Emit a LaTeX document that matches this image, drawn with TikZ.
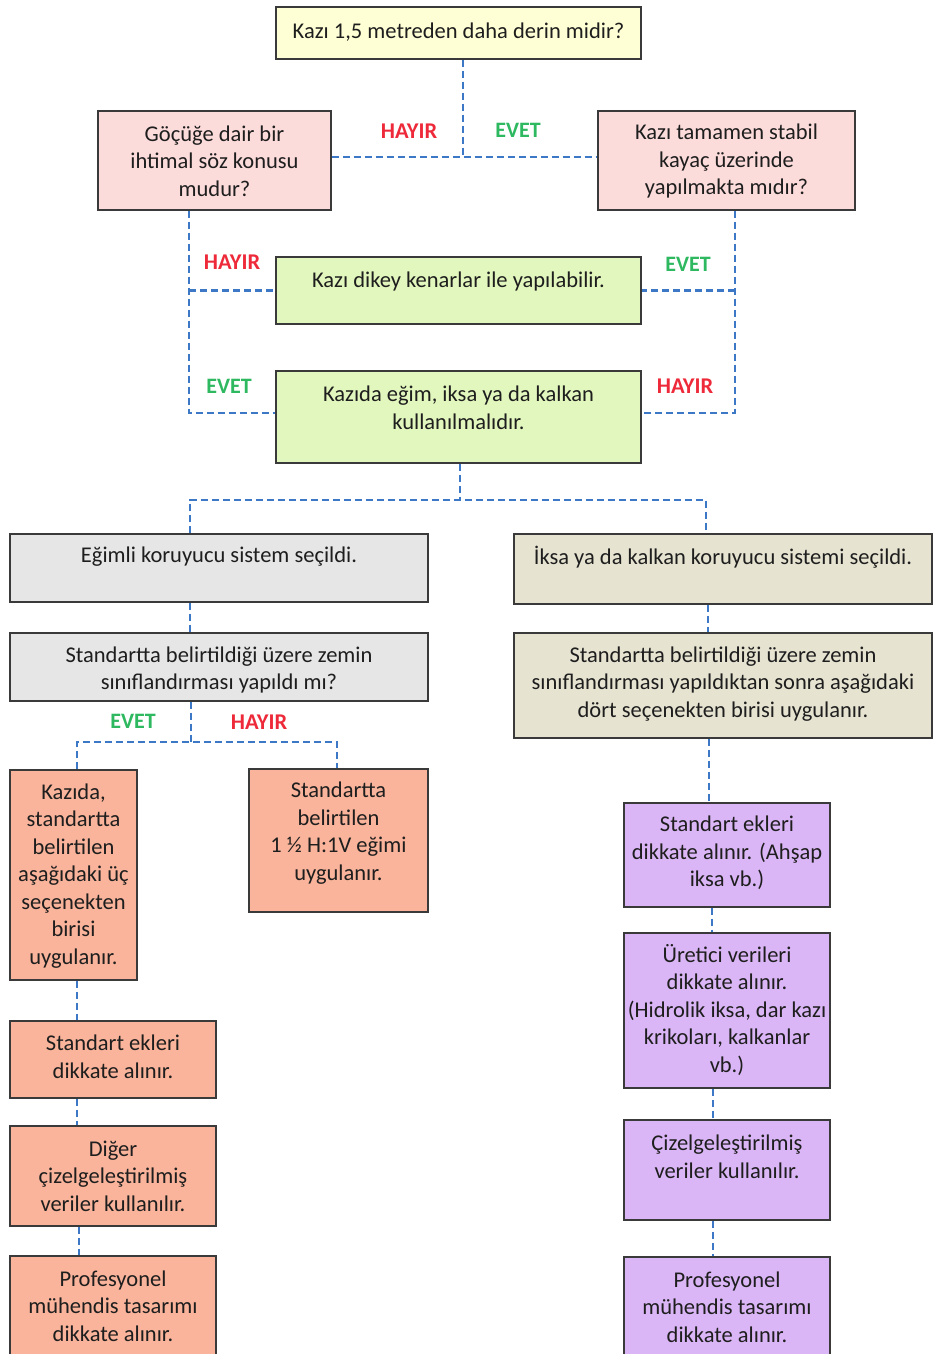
\documentclass[tikz,border=0pt]{standalone}
\usepackage{fontspec}
\setmainfont{Carlito}
\definecolor{bordc}{HTML}{3A3A3A}
\definecolor{txtc}{HTML}{1E1E1E}
\definecolor{yel}{HTML}{FFFFD6}
\definecolor{pnk}{HTML}{FCDCDB}
\definecolor{grn}{HTML}{E2F7BD}
\definecolor{gry}{HTML}{E6E6E6}
\definecolor{bge}{HTML}{E6E3D1}
\definecolor{slm}{HTML}{F9B49B}
\definecolor{prp}{HTML}{DBB6F6}
\definecolor{lnc}{HTML}{3D78C6}
\definecolor{hay}{HTML}{EE2A3A}
\definecolor{evt}{HTML}{2EB860}
\begin{document}
\begin{tikzpicture}[x=1pt,y=-1pt,
  box/.style={draw=bordc, line width=1.4pt, inner sep=0pt, rectangle},
  txt/.style={font=\fontsize{22.5}{27.5}\selectfont, text=txtc, align=center, inner sep=0pt},
  conn/.style={draw=lnc, line width=2.4pt, dash pattern=on 7pt off 4pt},
  no/.style={font=\fontsize{22.5}{24}\selectfont\bfseries, text=hay, inner sep=0pt},
  yes/.style={font=\fontsize{22}{24}\selectfont\bfseries, text=evt, inner sep=0pt}]
\useasboundingbox (0,0) rectangle (933,1354);
\clip (0,0) rectangle (933,1354);
\fill[white] (0,0) rectangle (933,1354);

% junction points
\coordinate (j1) at (463,157);
\coordinate (lx) at (189,413);
\coordinate (rx) at (735,413);
\coordinate (j2) at (460,500);
\coordinate (j2l) at (190,500);
\coordinate (j2r) at (706,500);
\coordinate (j3) at (191,742);
\coordinate (j3l) at (77,742);
\coordinate (j3r) at (337,742);

% boxes
\node[box, fill=yel, minimum width=365pt, minimum height=52pt] (top) at (458.5,33) {};
\node[box, fill=pnk, minimum width=233pt, minimum height=99pt] (pl) at (214.5,160.5) {};
\node[box, fill=pnk, minimum width=257pt, minimum height=99pt] (pr) at (726.5,160.5) {};
\node[box, fill=grn, minimum width=365pt, minimum height=67pt] (g1) at (458.5,290.5) {};
\node[box, fill=grn, minimum width=365pt, minimum height=92pt] (g2) at (458.5,417) {};
\node[box, fill=gry, minimum width=418pt, minimum height=68pt] (e1) at (219,568) {};
\node[box, fill=bge, minimum width=418pt, minimum height=70pt] (b1) at (723,569) {};
\node[box, fill=gry, minimum width=418pt, minimum height=68pt] (e2) at (219,667) {};
\node[box, fill=bge, minimum width=418pt, minimum height=105pt] (b2) at (723,685.5) {};
\node[box, fill=slm, minimum width=127pt, minimum height=210pt] (s1) at (73.5,875) {};
\node[box, fill=slm, minimum width=179pt, minimum height=143pt] (s2) at (338.5,840.5) {};
\node[box, fill=slm, minimum width=206pt, minimum height=77pt] (s3) at (113,1059.5) {};
\node[box, fill=slm, minimum width=206pt, minimum height=100pt] (s4) at (113,1176) {};
\node[box, fill=slm, minimum width=206pt, minimum height=104pt] (s5) at (113,1308) {};
\node[box, fill=prp, minimum width=206pt, minimum height=104pt] (p1) at (727,855) {};
\node[box, fill=prp, minimum width=206pt, minimum height=155pt] (p2) at (727,1010.5) {};
\node[box, fill=prp, minimum width=206pt, minimum height=100pt] (p3) at (727,1170) {};
\node[box, fill=prp, minimum width=206pt, minimum height=104pt] (p4) at (727,1309) {};

% connectors
\draw[conn] (top.south -| j1) -- (j1);
\draw[conn] (pl.east |- j1) -- (pr.west |- j1);
\draw[conn] (pl.south -| lx) -- (lx) -- (g2.west |- lx);
\draw[conn] (lx |- g1.west) -- (g1.west);
\draw[conn] (pr.south -| rx) -- (rx) -- (g2.east |- rx);
\draw[conn] (rx |- g1.east) -- (g1.east);
\draw[conn] (g2.south -| j2) -- (j2);
\draw[conn] (e1.north -| j2l) -- (j2l) -- (j2r) -- (b1.north -| j2r);
\draw[conn] (e1.south -| j2l) -- (e2.north -| j2l);
\draw[conn] (e2.south -| j3) -- (j3);
\draw[conn] (s1.north -| j3l) -- (j3l) -- (j3r) -- (s2.north -| j3r);
\draw[conn] (b1.south -| 708,0) -- (b2.north -| 708,0);
\draw[conn] (b2.south -| 709,0) -- (p1.north -| 709,0);
\draw[conn] (s1.south -| 77,0) -- (s3.north -| 77,0);
\draw[conn] (s3.south -| 77,0) -- (s4.north -| 77,0);
\draw[conn] (s4.south -| 79,0) -- (s5.north -| 79,0);
\draw[conn] (p1.south -| 712,0) -- (p2.north -| 712,0);
\draw[conn] (p2.south -| 713,0) -- (p3.north -| 713,0);
\draw[conn] (p3.south -| 713,0) -- (p4.north -| 713,0);

% redraw box borders over connector ends
\foreach \n in {top,pl,pr,g1,g2,e1,b1,e2,b2,s1,s2,s3,s4,s5,p1,p2,p3,p4}
  \draw[draw=bordc, line width=1.4pt] (\n.north west) rectangle (\n.south east);

% texts
\node[txt] (ttop) at (458.5,32) {Kazı 1,5 metreden daha derin midir?};
\node[txt] (tpl) at (214.5,161) {Göçüğe dair bir\\ihtimal söz konusu\\mudur?};
\node[txt] (tpr) at (726.5,161) {Kazı tamamen stabil\\kayaç üzerinde\\yapılmakta mıdır?};
\node[txt] (tg1) at (458.5,281) {Kazı dikey kenarlar ile yapılabilir.};
\node[txt] (tg2) at (458.5,408) {Kazıda eğim, iksa ya da kalkan\\kullanılmalıdır.};
\node[txt] (te1) at (219,557) {Eğimli koruyucu sistem seçildi.};
\node[txt] (tb1) at (723,557) {İksa ya da kalkan koruyucu sistemi seçildi.};
\node[txt] (te2) at (219,670) {Standartta belirtildiği üzere zemin\\sınıflandırması yapıldı mı?};
\node[txt] (tb2) at (723,684) {Standartta belirtildiği üzere zemin\\sınıflandırması yapıldıktan sonra aşağıdaki\\dört seçenekten birisi uygulanır.};
\node[txt] (ts1) at (73.5,876) {Kazıda,\\standartta\\belirtilen\\aşağıdaki üç\\seçenekten\\birisi\\uygulanır.};
\node[txt] (ts2) at (338.5,833) {Standartta\\belirtilen\\1 ½ H:1V eğimi\\uygulanır.};
\node[txt] (ts3) at (113,1057) {Standart ekleri\\dikkate alınır.};
\node[txt] (ts4) at (113,1176) {Diğer\\çizelgeleştirilmiş\\veriler kullanılır.};
\node[txt] (ts5) at (113,1306) {Profesyonel\\mühendis tasarımı\\dikkate alınır.};
\node[txt] (tp1) at (727,853) {Standart ekleri\\dikkate alınır. (Ahşap\\iksa vb.)};
\node[txt] (tp2) at (727,1010) {Üretici verileri\\dikkate alınır.\\(Hidrolik iksa, dar kazı\\krikoları, kalkanlar\\vb.)};
\node[txt] (tp3) at (727,1157) {Çizelgeleştirilmiş\\veriler kullanılır.};
\node[txt] (tp4) at (727,1307) {Profesyonel\\mühendis tasarımı\\dikkate alınır.};

% labels
\node[no] (l1) at (409,131) {HAYIR};
\node[yes] (l2) at (518,130) {EVET};
\node[no] (l3) at (232,262) {HAYIR};
\node[yes] (l4) at (229,386) {EVET};
\node[yes] (l5) at (688,264) {EVET};
\node[no] (l6) at (685,386) {HAYIR};
\node[yes] (l7) at (133,721) {EVET};
\node[no] (l8) at (259,722) {HAYIR};
\end{tikzpicture}
\end{document}
